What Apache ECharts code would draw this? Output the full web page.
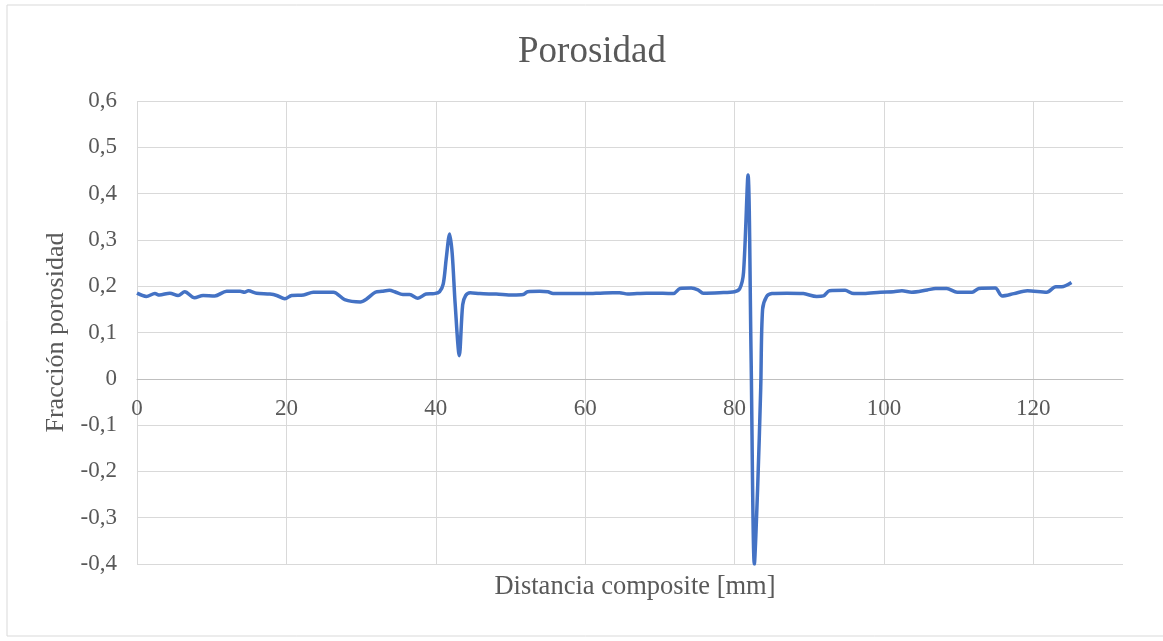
<!DOCTYPE html>
<html>
<head>
<meta charset="utf-8">
<script src="https://cdn.jsdelivr.net/npm/echarts@6/dist/echarts.min.js"></script>
<style>
html,body{margin:0;padding:0;background:#fff;}
#chart{width:1163px;height:641px;}
</style>
</head>
<body>
<div id="chart"></div>
<script>
var titleText = 'Porosidad';
var xAxisName = 'Distancia composite [mm]';
var yAxisName = 'Fracción porosidad';

var distancia = [0,1.25,2.4,3.0,4.4,5.5,6.4,7.7,8.85,10.4,12.0,13.8,14.4,14.9,16.0,17.8,18.7,19.8,20.7,22.3,23.6,26.3,27.8,29.9,30.7,31.9,32.8,33.8,34.5,35.6,36.5,37.6,38.7,39.8,40.5,41.0,41.4,41.85,42.2,42.6,43.15,43.6,44.0,44.6,45.9,48.1,50.3,51.7,52.3,53.9,55.0,55.7,57.9,60.2,62.0,63.7,64.6,65.7,68.2,70.4,71.8,72.7,74.2,75.1,75.8,78.0,80.0,80.7,81.2,81.8,82.2,82.65,83.1,83.5,83.75,84.3,85.0,87.0,89.2,91.0,91.9,92.7,94.8,95.7,97.3,99.5,101.3,102.4,103.7,105.8,106.9,108.4,109.8,111.8,112.7,114.9,115.8,117.4,119.2,121.8,123.0,123.8,125.1];
var porosidad = [0.185,0.178,0.184,0.181,0.185,0.180,0.188,0.175,0.180,0.179,0.189,0.189,0.187,0.190,0.185,0.183,0.180,0.173,0.180,0.181,0.187,0.187,0.171,0.166,0.172,0.187,0.189,0.191,0.188,0.182,0.182,0.174,0.183,0.184,0.188,0.205,0.26,0.313,0.27,0.16,0.05,0.16,0.18,0.186,0.184,0.183,0.181,0.182,0.188,0.189,0.188,0.184,0.184,0.184,0.185,0.186,0.186,0.183,0.185,0.185,0.184,0.195,0.196,0.192,0.185,0.186,0.188,0.195,0.23,0.44,0.06,-0.40,-0.23,-0.02,0.15,0.178,0.184,0.185,0.184,0.178,0.179,0.190,0.191,0.185,0.184,0.187,0.188,0.190,0.187,0.192,0.195,0.195,0.187,0.187,0.195,0.196,0.179,0.184,0.190,0.187,0.199,0.199,0.208];

var xMin = 0, xMax = 132, xStep = 20;
var yMin = -0.4, yMax = 0.6, yStep = 0.1;

var seriesData = distancia.map(function (d, i) { return [d, porosidad[i]]; });

var FONT = '"Liberation Serif", "DejaVu Serif", "Times New Roman", serif';
var TXT = '#595959';

// plot area
var G = {left: 137, right: 40, top: 101, bottom: 77};
var plotH = 641 - G.top - G.bottom;
var zeroFromTop = plotH * (yMax - 0) / (yMax - yMin);

var chart = echarts.init(document.getElementById('chart'), null, {renderer: 'canvas'});
chart.setOption({
  backgroundColor: '#ffffff',
  animation: false,
  graphic: [{
    type: 'rect', shape: {x: 7, y: 5, width: 1170, height: 631},
    style: {fill: 'none', stroke: '#d9d9d9', lineWidth: 1}, silent: true, z: -1
  }],
  title: [{
    text: titleText, left: 587, top: 29, textAlign: 'center',
    textStyle: {fontFamily: FONT, fontSize: 37, fontWeight: 'normal', color: TXT}
  }, {
    text: xAxisName, left: 630, top: 569, textAlign: 'center',
    textStyle: {fontFamily: FONT, fontSize: 26.5, fontWeight: 'normal', color: TXT}
  }],
  grid: [
    {left: G.left, right: G.right, top: G.top, bottom: G.bottom, containLabel: false},
    {left: G.left, right: G.right, top: G.top, height: zeroFromTop, containLabel: false}
  ],
  xAxis: [{
    gridIndex: 0, type: 'value', min: xMin, max: xMax, interval: xStep,
    axisLine: {show: false, onZero: false},
    axisTick: {show: false},
    axisLabel: {show: false},
    splitLine: {show: true, showMaxLine: false, lineStyle: {color: '#d9d9d9', width: 1}}
  }, {
    gridIndex: 1, type: 'value', min: xMin, max: xMax, interval: xStep, position: 'bottom',
    axisLine: {show: true, onZero: false, lineStyle: {color: '#bfbfbf', width: 1}},
    axisTick: {show: false},
    axisLabel: {
      fontFamily: FONT, fontSize: 23, color: TXT, margin: 19,
      showMaxLabel: false,
      formatter: function (v) { return v > 125 ? '' : String(v); }
    },
    splitLine: {show: false}
  }],
  yAxis: [{
    gridIndex: 0, type: 'value', min: yMin, max: yMax, interval: yStep,
    name: yAxisName, nameLocation: 'middle', nameRotate: 90, nameGap: 68,
    nameTextStyle: {fontFamily: FONT, fontSize: 26, color: TXT},
    axisLine: {show: false, onZero: false},
    axisTick: {show: false},
    axisLabel: {
      fontFamily: FONT, fontSize: 23, color: TXT, margin: 20,
      formatter: function (v) {
        var r = Math.round(v * 10) / 10;
        if (r === 0) return '0';
        return r.toFixed(1).replace('.', ',');
      }
    },
    splitLine: {show: true, lineStyle: {color: '#d9d9d9', width: 1}}
  }, {
    gridIndex: 1, type: 'value', min: 0, max: yMax, show: false,
    axisLine: {onZero: false}, splitLine: {show: false}
  }],
  series: [{
    type: 'line', xAxisIndex: 0, yAxisIndex: 0, data: seriesData, showSymbol: false, smooth: 0.3,
    lineStyle: {color: '#4472C4', width: 3.5}, itemStyle: {color: '#4472C4'},
    clip: true, z: 3
  }]
});
</script>
</body>
</html>
